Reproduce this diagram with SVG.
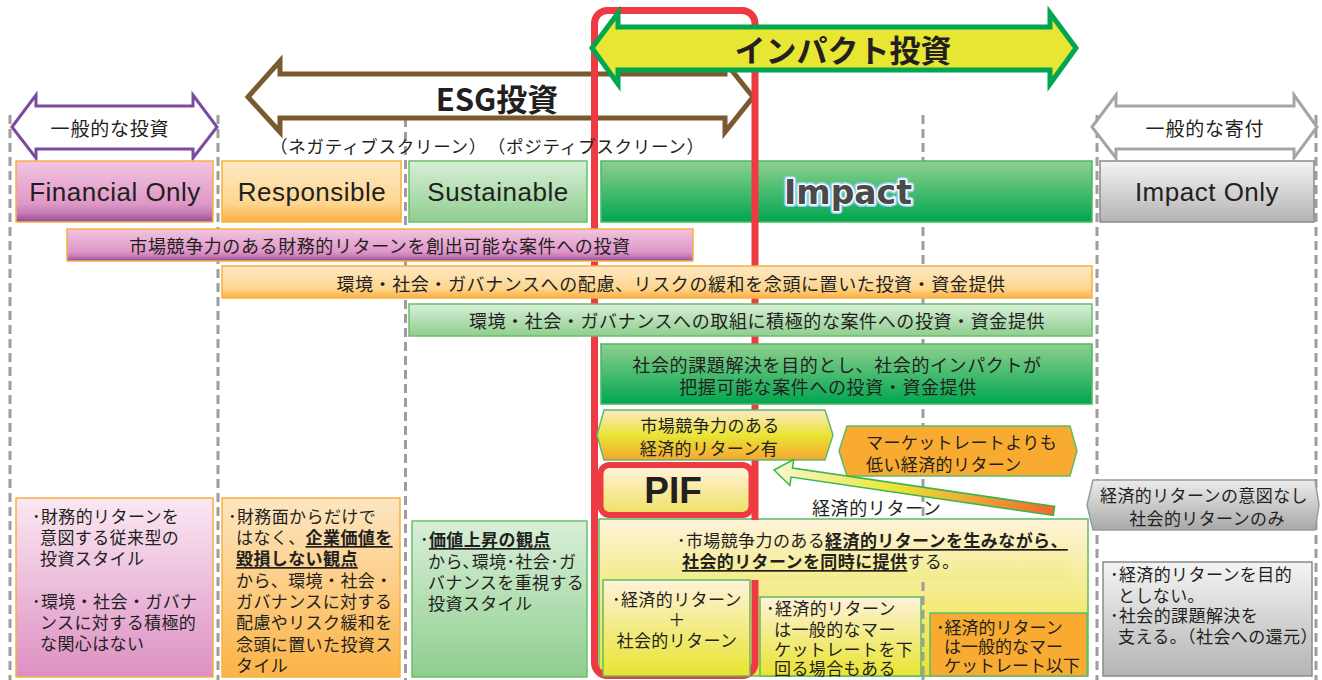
<svg xmlns="http://www.w3.org/2000/svg" width="1322" height="680" viewBox="0 0 1322 680">
<defs>
<linearGradient id="gFin" x1="0" y1="0" x2="0" y2="1"><stop offset="0" stop-color="#f2c4e1"/><stop offset="0.7" stop-color="#df98c8"/><stop offset="0.86" stop-color="#c67ab5"/><stop offset="1" stop-color="#8c4b9c"/></linearGradient>
<linearGradient id="gResp" x1="0" y1="0" x2="0" y2="1"><stop offset="0" stop-color="#fde9c4"/><stop offset="0.7" stop-color="#fdd690"/><stop offset="1" stop-color="#fbb040"/></linearGradient>
<linearGradient id="gSus" x1="0" y1="0" x2="0" y2="1"><stop offset="0" stop-color="#d8efd8"/><stop offset="1" stop-color="#8fce8f"/></linearGradient>
<linearGradient id="gImp" x1="0" y1="0" x2="0" y2="1"><stop offset="0" stop-color="#8ed08e"/><stop offset="1" stop-color="#00a650"/></linearGradient>
<linearGradient id="gGry" x1="0" y1="0" x2="0" y2="1"><stop offset="0" stop-color="#f4f4f4"/><stop offset="1" stop-color="#b4b4b4"/></linearGradient>
<linearGradient id="gPinkBox" x1="0" y1="0" x2="0" y2="1"><stop offset="0" stop-color="#fbe8f3"/><stop offset="1" stop-color="#dc90c3"/></linearGradient>
<linearGradient id="gOrBox" x1="0" y1="0" x2="0" y2="1"><stop offset="0" stop-color="#fde6c2"/><stop offset="1" stop-color="#fbb345"/></linearGradient>
<linearGradient id="gCY" x1="0" y1="0" x2="0" y2="1"><stop offset="0" stop-color="#fff2da"/><stop offset="1" stop-color="#e8e430"/></linearGradient>
<linearGradient id="gPatch" x1="0" y1="0" x2="0" y2="1"><stop offset="0" stop-color="#fff2da"/><stop offset="1" stop-color="#f2ec8a"/></linearGradient>
<linearGradient id="gHex1" x1="0" y1="0" x2="0" y2="1"><stop offset="0" stop-color="#fde8c8"/><stop offset="0.5" stop-color="#e9e535"/><stop offset="1" stop-color="#f7a630"/></linearGradient>
<linearGradient id="gPIF" x1="0" y1="0" x2="0" y2="1"><stop offset="0" stop-color="#fff4e0"/><stop offset="1" stop-color="#f0e060"/></linearGradient>
<linearGradient id="gArr" gradientUnits="userSpaceOnUse" x1="780" y1="0" x2="1055" y2="0"><stop offset="0" stop-color="#f8f6c8"/><stop offset="0.4" stop-color="#ece63a"/><stop offset="1" stop-color="#f06830"/></linearGradient>
<linearGradient id="gPent" x1="0" y1="0" x2="0" y2="1"><stop offset="0" stop-color="#ececec"/><stop offset="1" stop-color="#a8a8a8"/></linearGradient>
<style>
.dash{stroke:#9d9d9d;stroke-width:3;stroke-dasharray:9 5;fill:none}
.j{font-family:'Noto Sans CJK JP','Noto Sans',sans-serif;fill:#231f20;dominant-baseline:central}
.j17{font-size:17px;letter-spacing:0.4px}
.j18{font-size:18px;letter-spacing:0.6px}
.j19{font-size:19px;letter-spacing:0.8px}
.l26{font-family:'Liberation Sans',Arial,sans-serif;font-size:26px;letter-spacing:0.5px;fill:#231f20;dominant-baseline:central;text-anchor:middle}
.mid{text-anchor:middle}
.bu{font-weight:bold;text-decoration:underline}
.oS{stroke:#f7b040;stroke-width:1.5}
.gS{stroke:#5dbb6a;stroke-width:1.5}
</style>
</defs>

<g id="dashes">
<line class="dash" x1="10" y1="115" x2="10" y2="680"/>
<line class="dash" x1="218" y1="115" x2="218" y2="680"/>
<line class="dash" x1="405.5" y1="118" x2="405.5" y2="680"/>
<line class="dash" x1="923" y1="115" x2="923" y2="680"/>
<line class="dash" x1="1097" y1="115" x2="1097" y2="680"/>
<line class="dash" x1="1316" y1="115" x2="1316" y2="680"/>
</g>

<g id="esg-arrow">
<polygon points="248,97 280,61 280,74 725,74 725,62 753,97 725,132 725,118 280,118 280,132" fill="#fff" stroke="#7a5a2e" stroke-width="5" stroke-linejoin="miter"/>
<text class="j" x="497" y="97" text-anchor="middle" font-size="31" font-weight="bold">ESG投資</text>
</g>
<g id="general-invest">
<polygon points="12,127 36,95 36,106 193,106 193,95 217,127 193,158 193,149 36,149 36,158" fill="#fff" stroke="#7b4ba0" stroke-width="3"/>
<text class="j j19 mid" x="110" y="127">一般的な投資</text>
</g>
<g id="general-donation">
<polygon points="1092,127 1116,95 1116,106 1294,106 1294,95 1317,127 1294,158 1294,149 1116,149 1116,158" fill="#fff" stroke="#a5a5a5" stroke-width="3"/>
<text class="j j19 mid" x="1205" y="127">一般的な寄付</text>
</g>

<g id="h-financial"><rect x="16" y="161" width="197" height="61" fill="url(#gFin)" class="oS"/><text class="l26" x="115" y="192">Financial Only</text></g>
<g id="h-responsible"><rect x="222" y="161" width="179" height="61" fill="url(#gResp)" class="oS"/><text class="l26" x="312" y="192">Responsible</text></g>
<g id="h-sustainable"><rect x="409" y="161" width="178" height="61" fill="url(#gSus)" stroke="#6cbf6c" stroke-width="1.5"/><text class="l26" x="498" y="192">Sustainable</text></g>
<g id="h-impact"><rect x="601" y="161" width="491" height="61" fill="url(#gImp)" stroke="#4cb860" stroke-width="1.5"/>
<text x="848" y="204" text-anchor="middle" font-family="'DejaVu Sans',sans-serif" font-weight="bold" font-size="33" fill="none" stroke="#8fd0ee" stroke-width="6" stroke-linejoin="round">Impact</text>
<text x="848" y="204" text-anchor="middle" font-family="'DejaVu Sans',sans-serif" font-weight="bold" font-size="33" fill="#4a4a4a" stroke="#fff" stroke-width="3" paint-order="stroke" stroke-linejoin="round">Impact</text></g>
<g id="h-impactonly"><rect x="1100" y="161" width="214" height="61" fill="url(#gGry)" stroke="#8a8a8a" stroke-width="1.5"/><text class="l26" x="1207" y="192">Impact Only</text></g>

<g id="box-impact-main">
<rect x="599" y="519" width="489" height="157" fill="url(#gCY)" stroke="#5dbb6a" stroke-width="1.5"/>
</g>

<g id="red-frame"><rect x="594.5" y="10.5" width="160.5" height="665" rx="13" fill="none" stroke="#ee3a43" stroke-width="7"/></g>

<g id="impact-arrow">
<polygon points="592,48 618,13 618,27 1050,27 1050,13 1076,48 1050,84 1050,70 618,70 618,84" fill="#e7e633" stroke="#00a650" stroke-width="5"/>
<text class="j" x="843" y="48" text-anchor="middle" font-size="31" font-weight="bold">インパクト投資</text>
</g>

<text class="j" x="270" y="145" font-size="17.5" textLength="434" lengthAdjust="spacing">（ネガティブスクリーン）　（ポジティブスクリーン）</text>

<g id="bar-pink"><rect x="67" y="229" width="626" height="32" fill="url(#gFin)" class="oS"/><text class="j j18 mid" x="380" y="245">市場競争力のある財務的リターンを創出可能な案件への投資</text></g>
<g id="bar-orange"><rect x="222" y="266" width="870" height="32" fill="url(#gResp)" class="oS"/><text class="j j18 mid" x="671" y="283">環境・社会・ガバナンスへの配慮、リスクの緩和を念頭に置いた投資・資金提供</text></g>
<g id="bar-green"><rect x="409" y="304" width="683" height="32" fill="url(#gSus)" stroke="#6cbf6c" stroke-width="1.5"/><text class="j j18 mid" x="757" y="320">環境・社会・ガバナンスへの取組に積極的な案件への投資・資金提供</text></g>
<g id="bar-impact"><rect x="601" y="344" width="491" height="60" fill="url(#gImp)" stroke="#4cb860" stroke-width="1.5"/>
<text class="j j18 mid" x="837" y="364">社会的課題解決を目的とし、社会的インパクトが</text>
<text class="j j18 mid" x="828" y="386">把握可能な案件への投資・資金提供</text></g>

<g id="hex-market"><polygon points="597,435 604,410 825,410 833,435 825,460 604,460" fill="url(#gHex1)" stroke="#5dbb6a" stroke-width="1.5"/>
<text class="j j17 mid" x="710" y="424">市場競争力のある</text><text class="j j17 mid" x="709" y="447">経済的リターン有</text></g>
<g id="hex-below"><polygon points="839,451 847,426 1070,426 1077,451 1070,476 847,476" fill="#f8ab30" stroke="#5dbb6a" stroke-width="1.5"/>
<text class="j j17" x="866" y="441">マーケットレートよりも</text><text class="j j17" x="866" y="463">低い経済的リターン</text></g>

<g id="connectors">
<polygon points="774,470 793.7,459.7 792.5,468.1 1054.7,506.5 1053.3,515.5 791.1,477.1 789.9,485.5" fill="url(#gArr)" stroke="#3cb44b" stroke-width="1.5"/>
</g>
<text class="j j18" x="812" y="507">経済的リターン</text>

<g id="pif"><rect x="600.5" y="465" width="151" height="50" rx="9" fill="url(#gPIF)" stroke="#ee3a43" stroke-width="6"/>
<text x="673" y="503" text-anchor="middle" font-family="'Liberation Sans',Arial,sans-serif" font-weight="bold" font-size="37" fill="#231f20">PIF</text></g>

<g id="impact-text">
<rect x="601" y="520" width="470" height="60" fill="url(#gPatch)"/>
<text class="j j17" x="677" y="539">･市場競争力のある<tspan class="bu">経済的リターンを生みながら、</tspan></text>
<text class="j j17" x="682" y="560"><tspan class="bu">社会的リターンを同時に提供</tspan>する｡</text>
</g>
<line class="dash" x1="923" y1="582" x2="923" y2="676"/>

<g id="box-d1"><rect x="603" y="580" width="147" height="96" fill="url(#gCY)" stroke="#5dbb6a" stroke-width="1.5"/>
<text class="j j17 mid" x="677" y="598">･経済的リターン</text><text class="j j17 mid" x="677" y="618">＋</text><text class="j j17 mid" x="677" y="639">社会的リターン</text></g>
<g id="box-d2"><rect x="760" y="597" width="161" height="79" fill="url(#gCY)" stroke="#5dbb6a" stroke-width="1.5"/>
<text class="j j17" x="766" y="607">･経済的リターン</text><text class="j j17" x="774" y="628">は一般的なマー</text><text class="j j17" x="774" y="648">ケットレートを下</text><text class="j j17" x="774" y="667">回る場合もある</text></g>
<g id="box-d3"><rect x="930" y="613" width="157" height="63" fill="#f8ab30" stroke="#5dbb6a" stroke-width="1.5"/>
<text class="j" font-size="17" x="936" y="626">･経済的リターン</text><text class="j" font-size="17" x="944" y="645">は一般的なマー</text><text class="j" font-size="17" x="944" y="664">ケットレート以下</text></g>

<g id="box-financial"><rect x="16" y="498" width="197" height="179" fill="url(#gPinkBox)" class="oS"/>
<text class="j j17" x="32" y="515">･財務的リターンを</text><text class="j j17" x="40" y="536">意図する従来型の</text><text class="j j17" x="40" y="557">投資スタイル</text>
<text class="j j17" x="32" y="600">･環境・社会・ガバナ</text><text class="j j17" x="40" y="621">ンスに対する積極的</text><text class="j j17" x="40" y="642">な関心はない</text></g>

<g id="box-responsible"><rect x="222" y="498" width="178" height="179" fill="url(#gOrBox)" class="oS"/>
<text class="j j17" x="228" y="515">･財務面からだけで</text>
<text class="j j17" x="236" y="536">はなく、<tspan class="bu">企業価値を</tspan></text>
<text class="j j17" x="236" y="557"><tspan class="bu">毀損しない観点</tspan></text>
<text class="j j17" x="236" y="579">から、環境・社会・</text>
<text class="j j17" x="236" y="600">ガバナンスに対する</text>
<text class="j j17" x="236" y="621">配慮やリスク緩和を</text>
<text class="j j17" x="236" y="643">念頭に置いた投資ス</text>
<text class="j j17" x="236" y="664">タイル</text></g>

<g id="box-sustainable"><rect x="412" y="521" width="175" height="156" fill="url(#gSus)" stroke="#6cbf6c" stroke-width="1.5"/>
<text class="j j17" x="420" y="538">･<tspan class="bu">価値上昇の観点</tspan></text>
<text class="j j17" x="428" y="560">から､環境･社会･ガ</text>
<text class="j j17" x="428" y="581">バナンスを重視する</text>
<text class="j j17" x="428" y="602">投資スタイル</text></g>

<g id="pent-donation"><polygon points="1087,505 1093,480 1315,480 1319,505 1315,530 1093,530" fill="url(#gPent)" stroke="#9a9a9a" stroke-width="1.5"/>
<text class="j j17 mid" x="1204" y="494">経済的リターンの意図なし</text><text class="j j17 mid" x="1207" y="517">社会的リターンのみ</text></g>

<g id="box-impactonly"><rect x="1103" y="562" width="209" height="114" fill="url(#gGry)" stroke="#8a8a8a" stroke-width="1.5"/>
<text class="j j17" x="1110" y="573">･経済的リターンを目的</text><text class="j j17" x="1118" y="594">としない｡</text>
<text class="j j17" x="1110" y="614">･社会的課題解決を</text><text class="j j17" x="1118" y="635">支える｡（社会への還元）</text></g>
</svg>
